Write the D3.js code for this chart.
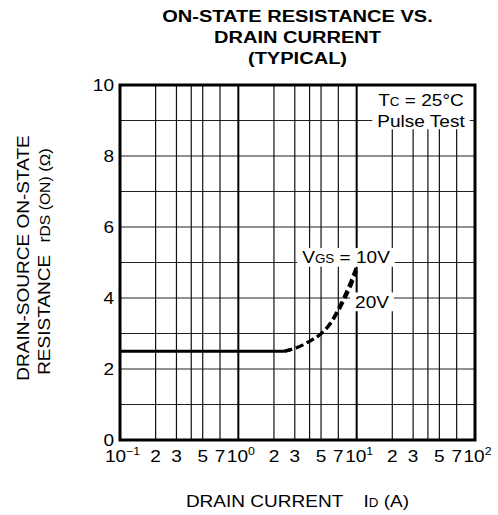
<!DOCTYPE html>
<html><head><meta charset="utf-8">
<script src="https://cdn.jsdelivr.net/npm/d3@7"></script>
<style>
body{margin:0;background:#fff}
svg{display:block}
text{font-family:"Liberation Sans",Arial,Helvetica,sans-serif;fill:#000;white-space:pre}
</style>
</head><body>
<svg id="c" width="498" height="515"></svg>
<script>
// ---- data ----
const xTickValues = [0.1,0.2,0.3,0.5,0.7,1,2,3,5,7,10,20,30,50,70,100];
const xGridMinor = [0.2,0.3,0.4,0.5,0.7,2,3,4,5,7,20,30,40,50,70];
const xGridDecades = [1,10];
const yTickValues = [0,2,4,6,8,10];
const yGridValues = [1,2,3,4,5,6,7,8,9];
const flatCurrent = [0.1, 2.45];
const flatR = [2.5, 2.5];
const riseCurrent = [2.45, 3, 4, 5, 6, 7, 8, 9, 10];
const r10V = [2.5, 2.58, 2.78, 3.0, 3.3, 3.7, 4.1, 4.5, 4.9];
const r20V = [2.5, 2.58, 2.78, 2.99, 3.27, 3.63, 4.0, 4.37, 4.76];
const titleLines = ["ON-STATE RESISTANCE VS.", "DRAIN CURRENT", "(TYPICAL)"];

// ---- layout ----
const L = 120, R = 475, T = 85, B = 440;
const SX = 1.12; // glyph widening
const svg = d3.select("#c");
const x = d3.scaleLog().domain([0.1, 100]).range([L, R]);
const y = d3.scaleLinear().domain([0, 10]).range([B, T]);

function stext(parent, px, py, parts, anchor, rot, bold, sx) {
  const g = parent.append("g")
    .attr("transform", `translate(${px},${py})` + (rot ? ` rotate(${rot})` : "") + ` scale(${sx || SX},1)`);
  const t = g.append("text").attr("text-anchor", anchor || "start");
  if (bold) t.attr("font-weight", "bold");
  parts.forEach(p => {
    const ts = t.append("tspan").text(p.t).attr("font-size", p.s);
    if (p.dy) ts.attr("dy", p.dy);
    if (p.dx) ts.attr("dx", p.dx);
  });
  return g;
}
function boxed(px, py, lines, anchor, padX, padTop, padBot) {
  const outer = svg.append("g");
  const inner = outer.append("g");
  lines.forEach(l => stext(inner, px, py + l.dy, l.parts, anchor));
  const bb = outer.node().getBBox();
  outer.insert("rect", ":first-child")
    .attr("x", bb.x - padX).attr("y", bb.y - padTop)
    .attr("width", bb.width + 2 * padX).attr("height", bb.height + padTop + padBot)
    .attr("fill", "#fff");
}

// grid
svg.append("g").selectAll("line").data(yGridValues).join("line")
  .attr("x1", L).attr("x2", R).attr("y1", d => y(d)).attr("y2", d => y(d))
  .attr("stroke", "#222").attr("stroke-width", 1.2);
svg.append("g").selectAll("line").data(xGridMinor).join("line")
  .attr("x1", d => x(d)).attr("x2", d => x(d)).attr("y1", T).attr("y2", B)
  .attr("stroke", "#111").attr("stroke-width", 1.2);
svg.append("g").selectAll("line").data(xGridDecades).join("line")
  .attr("x1", d => x(d)).attr("x2", d => x(d)).attr("y1", T).attr("y2", B)
  .attr("stroke", "#000").attr("stroke-width", 2);

// boxed annotations
boxed(421, 0, [
  {dy: 106, parts: [{t: "T", s: 17}, {t: "C", s: 12}, {t: " = 25°C", s: 17}]},
  {dy: 126.5, parts: [{t: "Pulse Test", s: 17}]}
], "middle", 5, 6, -1);
boxed(346, 263, [{dy: 0, parts: [{t: "V", s: 17}, {t: "GS", s: 12}, {t: " = 10V", s: 17}]}], "middle", 5, 0, 0);
boxed(372, 307.5, [{dy: 0, parts: [{t: "20V", s: 17}]}], "middle", 5, 0, 0);

// curves
const line = d3.line().x(d => x(d[0])).y(d => y(d[1])).curve(d3.curveMonotoneX);
svg.append("path").datum(d3.zip(flatCurrent, flatR)).attr("d", line)
  .attr("fill", "none").attr("stroke", "#000").attr("stroke-width", 3);
[r10V, r20V].forEach(rs => {
  svg.append("path").datum(d3.zip(riseCurrent, rs)).attr("d", line)
    .attr("fill", "none").attr("stroke", "#000").attr("stroke-width", 3)
    .attr("stroke-dasharray", "8,4");
});

// frame
svg.append("rect").attr("x", L).attr("y", T).attr("width", R - L).attr("height", B - T)
  .attr("fill", "none").attr("stroke", "#000").attr("stroke-width", 3);

// y tick labels
yTickValues.forEach(v => stext(svg, 114, y(v) + 5.5, [{t: String(v), s: 17}], "end"));

// x tick labels
xTickValues.forEach(v => {
  const e = Math.round(Math.log10(v));
  const isDec = Math.abs(Math.log10(v) - e) < 1e-9;
  if (isDec) {
    const exp = e < 0 ? "\u2212" + (-e) : String(e);
    stext(svg, x(v) + 2.5, 461.5, [{t: "10", s: 17}, {t: exp, s: 11, dy: -6.5}], "middle");
  } else {
    stext(svg, x(v), 461.5, [{t: String(Math.round(v / Math.pow(10, Math.floor(Math.log10(v) + 1e-9)))), s: 17}], "middle");
  }
});

// title
titleLines.forEach((t, i) => stext(svg, (L + R) / 2, 21.5 + i * 21, [{t: t, s: 17}], "middle", 0, true, 1.18));

// x axis title
stext(svg, (L + R) / 2, 506.5, [
  {t: "DRAIN CURRENT", s: 17},
  {t: "I", s: 17, dx: 18},
  {t: "D", s: 12},
  {t: " (A)", s: 17}
], "middle");

// y axis title
stext(svg, 28.5, 258, [{t: "DRAIN-SOURCE ON-STATE", s: 17}], "middle", -90);
stext(svg, 50, 261.5, [
  {t: "RESISTANCE", s: 17},
  {t: "r", s: 16, dx: 11},
  {t: "DS (ON)", s: 14},
  {t: "(Ω)", s: 15, dx: 4}
], "middle", -90);
</script>
</body></html>
